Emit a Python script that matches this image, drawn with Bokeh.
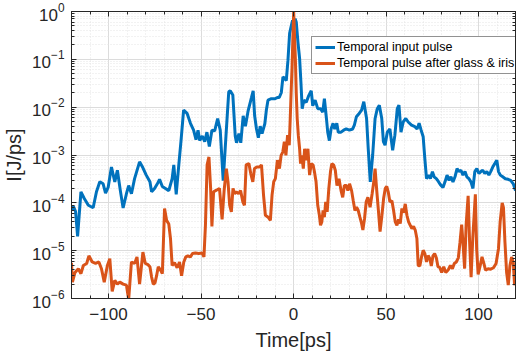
from bokeh.plotting import figure
from bokeh.models import FixedTicker, LinearAxis, LogAxis, Range1d
from bokeh.embed import file_html
from bokeh.resources import INLINE

# ---- data ----
t_input = [-120.0, -119.0, -117.8, -116.7, -114.9, -113.1, -110.9, -108.3, -106.5, -104.7,
           -102.9, -101.6, -100.2, -98.4, -96.6, -95.2, -93.6, -92.1, -90.3, -89.1,
           -87.6, -85.9, -83.2, -81.4, -79.6, -77.6, -76.7, -75.1, -73.6, -72.4,
           -70.9, -69.2, -67.4, -65.6, -64.7, -63.4, -62.0, -60.7, -59.4, -57.5,
           -55.7, -54.0, -52.7, -51.6, -50.7, -49.3, -48.0, -46.8, -45.5, -44.1,
           -42.6, -41.0, -39.6, -38.0, -36.5, -35.0, -34.2, -32.8, -31.5, -30.8,
           -29.5, -28.5, -27.2, -26.0, -24.5, -22.7, -21.8, -21.0, -20.0, -19.0,
           -18.0, -17.0, -15.5, -14.7, -13.8, -12.0, -10.0, -8.5, -7.7, -6.6,
           -5.7, -4.8, -3.9, -3.0, -2.1, -1.2, -0.5, 0.3, 0.9, 1.5,
           2.4, 3.3, 4.0, 4.7, 5.6, 6.9, 8.1, 9.6, 10.4, 11.7,
           13.1, 14.6, 15.8, 16.7, 17.8, 18.5, 19.4, 20.3, 21.4, 22.3,
           23.4, 24.2, 25.7, 27.1, 28.5, 30.2, 32.0, 32.9, 34.0, 35.5,
           36.8, 38.0, 39.5, 40.4, 41.5, 42.8, 44.1, 45.3, 46.4, 47.7,
           48.6, 49.5, 50.7, 52.1, 53.6, 54.8, 56.1, 57.0, 58.1, 59.3,
           60.7, 62.0, 63.8, 65.6, 66.8, 67.9, 69.0, 70.1, 71.0, 71.9,
           73.0, 74.0, 75.1, 76.0, 77.2, 78.3, 79.4, 80.8, 81.9, 83.0,
           84.1, 85.1, 86.2, 87.3, 88.4, 89.4, 90.5, 91.6, 92.7, 93.7,
           94.8, 95.9, 97.0, 98.0, 99.1, 100.2, 101.3, 102.3, 103.4, 104.5,
           105.6, 106.6, 107.7, 108.8, 109.9, 110.8, 111.8, 113.1, 114.5, 116.0,
           117.4, 118.8, 120.0]
i_input = [6.9e-5, 8.5e-5, 6.6e-5, 2.0e-5, 1.7e-4, 1.23e-4, 8.9e-5, 7.9e-5, 1.7e-4, 2.75e-4,
           2.5e-4, 1.6e-4, 2.1e-4, 5.6e-4, 2.75e-4, 4.8e-4, 1.8e-4, 7.8e-5, 1.55e-4, 2.3e-4,
           1.55e-4, 3.2e-4, 7.2e-4, 5.4e-4, 3.8e-4, 2.75e-4, 1.7e-4, 2.0e-4, 2.5e-4, 3.1e-4,
           2.2e-4, 2.0e-4, 1.8e-4, 3.2e-4, 6.2e-4, 1.5e-4, 6.2e-4, 2.2e-3, 8.7e-3, 7.4e-3,
           4.6e-3, 3.3e-3, 2.1e-3, 3.3e-3, 2.0e-3, 2.5e-3, 1.9e-3, 3.0e-3, 1.5e-3, 3.3e-3,
           3.2e-3, 5.8e-3, 3.3e-3, 2.9e-4, 2.5e-3, 2.1e-2, 2.2e-2, 1.8e-2, 2.5e-3, 1.8e-3,
           2.8e-3, 1.8e-3, 6.6e-3, 4.0e-3, 8.5e-3, 1.6e-2, 2.2e-2, 6.6e-3, 3.5e-3, 2.3e-3,
           4.0e-3, 2.8e-3, 4.5e-3, 8.5e-3, 1.4e-2, 1.5e-2, 1.5e-2, 1.6e-2, 1.6e-2, 2.0e-2,
           4.3e-2, 4.0e-2, 3.6e-2, 9.5e-2, 0.35, 0.50, 0.65, 0.56, 0.71, 0.60,
           0.23, 0.105, 3.4e-2, 9.3e-3, 1.4e-2, 1.26e-2, 1.7e-2, 2.2e-2, 1.07e-2, 1.4e-2,
           9.3e-3, 9.3e-3, 7.9e-3, 1.5e-2, 5.8e-3, 3.0e-3, 2.0e-3, 3.5e-3, 4.6e-3, 3.5e-3,
           4.6e-3, 3.0e-3, 3.0e-3, 3.3e-3, 3.5e-3, 3.3e-3, 3.5e-3, 4.2e-3, 6.3e-3, 7.4e-3,
           8.7e-3, 1.3e-2, 5.8e-3, 1.35e-3, 2.75e-4, 1.0e-3, 5.8e-3, 9.3e-3, 1.1e-2, 5.8e-3,
           1.9e-3, 1.6e-3, 3.0e-3, 3.5e-3, 1.26e-3, 2.6e-3, 9.3e-3, 1.1e-2, 3.0e-3, 4.9e-3,
           5.8e-3, 4.9e-3, 4.2e-3, 3.9e-3, 3.5e-3, 4.6e-3, 3.3e-3, 2.4e-3, 8.3e-4, 3.2e-4,
           3.8e-4, 3.2e-4, 4.5e-4, 3.5e-4, 3.2e-4, 2.8e-4, 2.4e-4, 2.1e-4, 2.75e-4, 3.8e-4,
           2.95e-4, 3.5e-4, 2.75e-4, 3.5e-4, 5.2e-4, 4.5e-4, 4.8e-4, 3.8e-4, 4.5e-4, 3.5e-4,
           3.2e-4, 2.75e-4, 2.0e-4, 4.5e-4, 5.2e-4, 4.1e-4, 4.5e-4, 4.8e-4, 4.1e-4, 4.5e-4,
           3.8e-4, 4.5e-4, 5.6e-4, 6.6e-4, 7.8e-4, 4.5e-4, 3.8e-4, 3.5e-4, 3.2e-4, 3.1e-4,
           2.95e-4, 2.5e-4, 1.8e-4]

t_after = [-120.0, -119.5, -118.1, -116.3, -114.9, -113.6, -111.8, -110.6, -108.8, -107.0,
           -105.2, -103.8, -102.3, -100.6, -99.3, -98.0, -96.6, -95.2, -93.9, -92.1,
           -90.3, -89.1, -87.6, -85.9, -84.6, -83.2, -81.4, -80.1, -78.7, -77.6,
           -76.7, -75.8, -74.9, -74.0, -73.1, -71.8, -70.9, -69.7, -68.6, -67.4,
           -66.5, -65.6, -64.3, -62.9, -61.6, -60.5, -59.3, -58.2, -57.1, -55.7,
           -54.6, -53.0, -51.2, -49.4, -48.4, -47.6, -46.7, -45.7, -44.8, -44.1,
           -43.2, -42.1, -41.0, -40.0, -38.6, -37.5, -36.3, -35.4, -34.5, -33.6,
           -32.7, -31.8, -30.9, -29.7, -28.6, -27.4, -26.5, -25.6, -24.1, -23.1,
           -22.0, -21.1, -19.8, -18.4, -17.3, -16.2, -15.2, -13.7, -12.5, -11.6,
           -10.7, -9.8, -8.7, -7.6, -6.7, -5.8, -4.95, -4.1, -3.2, -2.3,
           -1.7, -1.2, -0.8, -0.4, 0.1, 1.0, 1.5, 2.0, 2.6, 3.3,
           3.8, 4.5, 5.3, 6.0, 6.9, 7.8, 8.7, 9.6, 10.6, 11.3,
           12.2, 13.1, 14.0, 14.6, 15.3, 16.0, 16.7, 17.4, 18.2, 19.1,
           20.0, 20.7, 21.7, 22.6, 23.5, 24.6, 25.7, 26.6, 27.5, 28.6,
           29.4, 30.3, 31.4, 32.3, 33.2, 34.1, 35.0, 35.9, 36.8, 37.5,
           38.4, 39.3, 40.2, 41.4, 42.5, 43.4, 44.1, 45.0, 45.9, 46.8,
           47.8, 48.7, 49.6, 50.4, 51.2, 52.1, 53.2, 54.1, 55.0, 55.9,
           56.8, 57.7, 58.6, 59.5, 60.4, 61.3, 62.2, 63.1, 64.0, 64.9,
           65.8, 66.7, 67.4, 68.3, 69.2, 70.1, 71.0, 71.9, 72.8, 73.7,
           74.5, 75.4, 76.3, 77.2, 78.1, 79.0, 80.1, 81.2, 82.3, 83.7,
           84.8, 85.9, 86.9, 88.0, 89.1, 90.0, 90.9, 91.6, 92.5, 93.3,
           94.4, 95.2, 96.0, 96.9, 98.3, 99.0, 99.8, 100.9, 101.9, 102.9,
           103.8, 105.2, 106.6, 108.1, 109.5, 110.8, 111.7, 112.8, 113.5, 114.3,
           115.2, 116.1, 117.0, 117.9, 118.8, 119.5, 120.0]
i_after = [5.6e-6, 2.2e-6, 3.5e-6, 4.2e-6, 3.3e-6, 4.9e-6, 5.4e-6, 7.8e-6, 5.8e-6, 5.4e-6,
           5.8e-6, 4.2e-6, 2.2e-6, 4.9e-6, 6.8e-6, 1.4e-6, 2.4e-6, 2.0e-6, 2.2e-6, 2.0e-6,
           1.9e-6, 0.95e-6, 5.8e-6, 5.4e-6, 7.4e-6, 2.0e-6, 9.3e-6, 5.4e-6, 5.1e-6, 4.6e-6,
           2.8e-6, 2.0e-6, 2.1e-6, 3.0e-6, 4.6e-6, 3.9e-6, 3.3e-6, 7.6e-5, 4.3e-5, 3.6e-5,
           1.8e-5, 4.9e-6, 5.6e-6, 4.4e-6, 5.8e-6, 3.0e-6, 5.8e-6, 7.4e-6, 7.8e-6, 7.4e-6,
           8.7e-6, 8.9e-6, 8.7e-6, 8.9e-6, 7.4e-6, 3.4e-5, 6.2e-4, 9.1e-4, 2.0e-4, 3.2e-5,
           1.7e-4, 1.8e-4, 1.9e-4, 2.0e-4, 4.5e-5, 1.8e-4, 5.2e-4, 2.75e-4, 8.9e-5, 6.5e-5,
           2.0e-4, 1.55e-4, 1.7e-4, 1.55e-4, 1.8e-4, 1.05e-4, 8.9e-5, 6.2e-4, 6.6e-4, 4.1e-4,
           2.75e-4, 5.2e-4, 5.6e-4, 5.6e-4, 6.2e-4, 1.45e-4, 5.5e-5, 5.0e-5, 4.3e-5, 1.45e-4,
           2.75e-4, 3.2e-4, 7.8e-4, 5.2e-4, 9.8e-4, 1.15e-3, 1.9e-3, 9.8e-4, 2.6e-3, 1.6e-3,
           6.8e-3, 2.5e-2, 6.5e-2, 0.23, 1.0, 0.105, 1.9e-2, 5.8e-3, 2.6e-3, 1.35e-3,
           6.6e-4, 9.8e-4, 5.2e-4, 1.35e-3, 7.8e-4, 1.35e-3, 3.8e-4, 6.6e-4, 6.2e-4, 4.5e-4,
           2.75e-4, 8.9e-5, 5.5e-5, 3.4e-5, 4.0e-5, 6.9e-5, 5.0e-5, 1.05e-4, 6.5e-5, 2.0e-4,
           4.5e-4, 6.6e-4, 6.2e-4, 4.8e-4, 2.3e-4, 3.2e-4, 1.8e-4, 1.3e-4, 2.3e-4, 2.3e-4,
           1.8e-4, 2.5e-4, 1.8e-4, 1.1e-4, 6.9e-5, 8.1e-5, 6.9e-5, 5.0e-5, 3.7e-5, 2.7e-5,
           4.7e-5, 1.05e-4, 1.3e-4, 8.1e-5, 1.55e-4, 2.75e-4, 5.2e-4, 1.8e-4, 6.9e-5, 2.5e-5,
           5.5e-5, 1.23e-4, 2.0e-4, 2.2e-4, 1.7e-4, 1.05e-4, 1.1e-4, 6.9e-5, 4.0e-5, 3.4e-5,
           4.5e-5, 3.7e-5, 7.6e-5, 6.2e-5, 9.5e-5, 5.5e-5, 4.0e-5, 3.4e-5, 2.9e-5, 3.2e-5,
           2.7e-5, 1.8e-5, 4.9e-6, 4.8e-6, 7.4e-6, 1.02e-5, 8.7e-6, 5.8e-6, 7.9e-6, 6.8e-6,
           4.8e-6, 7.8e-6, 8.7e-6, 7.1e-6, 4.6e-6, 4.5e-6, 3.5e-6, 4.6e-6, 3.5e-6, 4.0e-6,
           4.9e-6, 4.2e-6, 5.4e-6, 5.8e-6, 7.1e-6, 1.5e-5, 3.5e-5, 1.5e-5, 4.2e-6, 3.4e-5,
           1.4e-4, 1.5e-5, 2.8e-6, 1.8e-5, 1.5e-4, 1.1e-5, 3.2e-6, 4.8e-6, 7.4e-6, 5.4e-6,
           3.9e-6, 4.2e-6, 4.1e-6, 4.4e-6, 5.4e-6, 1.1e-5, 4.0e-5, 1.0e-4, 7.9e-5, 1.5e-5,
           3.5e-6, 1.9e-6, 4.9e-6, 7.4e-6, 5.6e-6, 1.9e-6, 2.4e-6]

x_ticks = [-100, -50, 0, 50, 100]
y_ticks = [1e-6, 1e-5, 1e-4, 1e-3, 1e-2, 1e-1, 1e0]
series_labels = ["Temporal input pulse", "Temporal pulse after glass & iris"]
x_label = "Time[ps]"
y_label = "I[J/ps]"

# ---- styling ----
FONT = "Liberation Sans"
DARK = "#262626"
BLUE = "#0072BD"
ORANGE = "#D95319"

x_minor = list(range(-120, 121, 10))
y_minor = [k * d for d in y_ticks[:-1] for k in range(2, 10)]

p = figure(width=522, height=354, x_range=Range1d(-120, 120), y_range=Range1d(1e-6, 1),
           y_axis_type="log", output_backend="svg", toolbar_location=None,
           min_border_left=68, min_border_right=7, min_border_top=11, min_border_bottom=56,
           background_fill_color="white", border_fill_color="white")

p.line(t_input, i_input, line_color=BLUE, line_width=3, legend_label=series_labels[0])
p.line(t_after, i_after, line_color=ORANGE, line_width=3, legend_label=series_labels[1])

p.outline_line_color = DARK
p.outline_line_width = 1

for ax in (p.xaxis[0], p.yaxis[0]):
    ax.major_tick_in = 5
    ax.major_tick_out = 0
    ax.minor_tick_in = 3
    ax.minor_tick_out = 0
    ax.axis_line_color = DARK
    ax.major_tick_line_color = DARK
    ax.minor_tick_line_color = DARK
    ax.major_label_text_font = FONT
    ax.major_label_text_font_size = "17px"
    ax.major_label_text_color = DARK
    ax.axis_label_text_font = FONT
    ax.axis_label_text_font_size = "20px"
    ax.axis_label_text_font_style = "normal"
    ax.axis_label_text_color = DARK

p.xaxis[0].ticker = FixedTicker(ticks=x_ticks, minor_ticks=x_minor)
p.yaxis[0].ticker = FixedTicker(ticks=y_ticks, minor_ticks=y_minor)
p.xaxis[0].axis_label = x_label
p.yaxis[0].axis_label = y_label
p.xaxis[0].major_label_standoff = 9
p.xaxis[0].axis_label_standoff = 6
p.yaxis[0].major_label_standoff = 7
p.yaxis[0].axis_label_standoff = 4

# tick marks only on the top and right edges (box on)
top = LinearAxis(ticker=FixedTicker(ticks=x_ticks, minor_ticks=x_minor),
                 major_label_text_font_size="1px", major_label_text_color=None,
                 major_label_standoff=0,
                 major_tick_in=5, major_tick_out=0, minor_tick_in=3, minor_tick_out=0,
                 axis_line_color=DARK, major_tick_line_color=DARK, minor_tick_line_color=DARK)
right = LogAxis(ticker=FixedTicker(ticks=y_ticks, minor_ticks=y_minor),
                major_label_text_font_size="1px", major_label_text_color=None,
                major_label_standoff=0,
                major_tick_in=5, major_tick_out=0, minor_tick_in=3, minor_tick_out=0,
                axis_line_color=DARK, major_tick_line_color=DARK, minor_tick_line_color=DARK)
p.add_layout(top, "above")
p.add_layout(right, "right")

for g in (p.xgrid[0], p.ygrid[0]):
    g.grid_line_color = "#dcdcdc"
    g.grid_line_width = 1
    g.minor_grid_line_color = "#e4e4e4"
    g.minor_grid_line_dash = "1 2"
    g.minor_grid_line_width = 1

lg = p.legend[0]
lg.location = (240, 224)
lg.border_line_color = DARK
lg.border_line_width = 1
lg.background_fill_color = "white"
lg.background_fill_alpha = 1
lg.label_text_font = FONT
lg.label_text_font_size = "12.5px"
lg.label_text_color = "black"
lg.glyph_width = 20
lg.glyph_height = 12
lg.label_height = 12
lg.spacing = 2
lg.padding = 3
lg.margin = 0
lg.label_standoff = 2

open("out.html", "w").write(file_html(p, INLINE))
